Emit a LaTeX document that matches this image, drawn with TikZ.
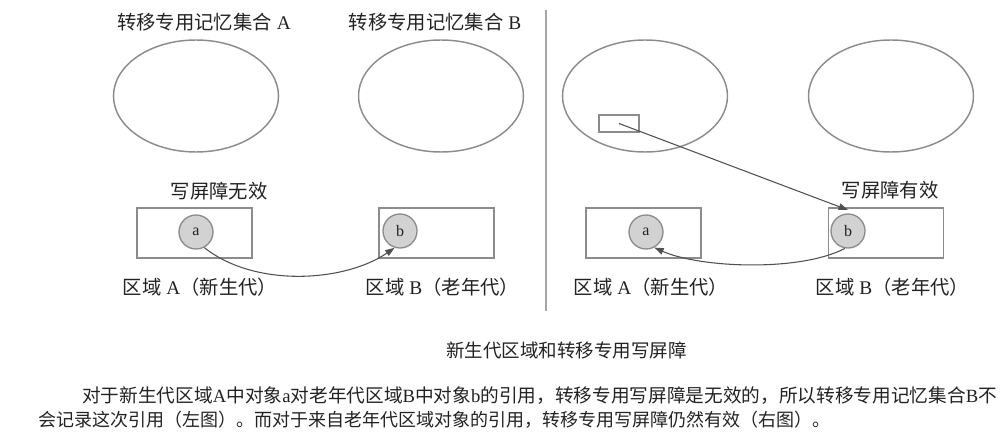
\documentclass[tikz,border=0pt]{standalone}
\usepackage{fontspec}
\setmainfont{Liberation Serif}
\newfontfamily\cjk{Noto Sans CJK SC}
\usetikzlibrary{arrows.meta,shapes.geometric}
\definecolor{linegray}{HTML}{8C8C8C}
\definecolor{fillgray}{HTML}{D2D2D2}
\definecolor{arrowgray}{HTML}{505050}
\definecolor{txt}{HTML}{222222}
\tikzset{
  setell/.style={draw=linegray,line width=1.1pt,ellipse,minimum width=123.75pt,minimum height=84pt,inner sep=0pt},
  regbox/.style={draw=linegray,line width=1pt,minimum width=86.25pt,minimum height=37.5pt,inner sep=0pt},
  obj/.style={circle,draw=linegray,line width=1pt,fill=fillgray,minimum size=25.5pt,inner sep=0pt,font=\fontsize{12}{12}\selectfont,text=txt},
  lbl/.style={font=\fontsize{14.5}{15}\selectfont,text=txt,inner sep=0pt},
  para/.style={text=txt,inner sep=0pt,anchor=west},
  refarrow/.style={draw=arrowgray,line width=0.8pt,-{Triangle[length=7pt,width=5pt]}},
}
\begin{document}
\begin{tikzpicture}[x=0.75pt,y=-0.75pt]
\useasboundingbox (0,0) rectangle (1008,438);
% left panel
\node[lbl] (tA) at (204,22) {{\cjk 转移专用记忆集合} A};
\node[lbl] (tB) at (435,22) {{\cjk 转移专用记忆集合} B};
\node[setell] (eA) at (196,96) {};
\node[setell] (eB) at (441,96) {};
\node[lbl] (wl) at (219,191) {\cjk 写屏障无效};
\node[regbox] (bA) at (194.5,233) {};
\node[regbox] (bB) at (436.5,233) {};
\node[obj] (a1) at (196,232) {a};
\node[obj] (b1) at (400,231) {b};
\node[lbl] (rA) at (200,287) {{\cjk 区域} A{\cjk （新生代）}};
\node[lbl] (rB) at (442.5,287) {{\cjk 区域} B{\cjk （老年代）}};
\draw[refarrow] (a1.-62) .. controls (255,288) and (345,282) .. (b1.-108);
% divider
\coordinate (d1) at (546,10);
\coordinate (d2) at (546,311);
\draw[draw=black!35,line width=1.2pt] (d1) -- (d2);
% right panel
\node[setell] (eA2) at (645,96) {};
\node[setell] (eB2) at (891,96) {};
\node[draw=linegray,line width=1pt,minimum width=30pt,minimum height=12.75pt,inner sep=0pt] (mr) at (619,123.5) {};
\node[lbl] (wr) at (890,190) {\cjk 写屏障有效};
\node[regbox] (bA2) at (643.5,233) {};
\node[regbox] (bB2) at (886,233) {};
\node[obj] (a2) at (646,232) {a};
\node[obj] (b2) at (848,231) {b};
\node[lbl] (rA2) at (651,287) {{\cjk 区域} A{\cjk （新生代）}};
\node[lbl] (rB2) at (892.5,287) {{\cjk 区域} B{\cjk （老年代）}};
\draw[refarrow] (mr.center) -- ([yshift=2.5pt]b2.north);
\draw[refarrow] (b2.-100) .. controls (800,272) and (700,268) .. (a2.-62);
% caption and text
\node[text=txt,inner sep=0pt,font=\fontsize{13.9}{14}\selectfont] (cap) at (566.5,350) {\cjk 新生代区域和转移专用写屏障};
\node[para,font=\fontsize{14.0}{14}\selectfont] (p1) at (82,396) {{\cjk 对于新生代区域}A{\cjk 中对象}a{\cjk 对老年代区域}B{\cjk 中对象}b{\cjk 的引用，转移专用写屏障是无效的，所以转移专用记忆集合}B{\cjk 不}};
\node[para,font=\fontsize{13.5}{14}\selectfont] (p2) at (38,420) {\cjk 会记录这次引用（左图）。而对于来自老年代区域对象的引用，转移专用写屏障仍然有效（右图）。};
\end{tikzpicture}
\end{document}
